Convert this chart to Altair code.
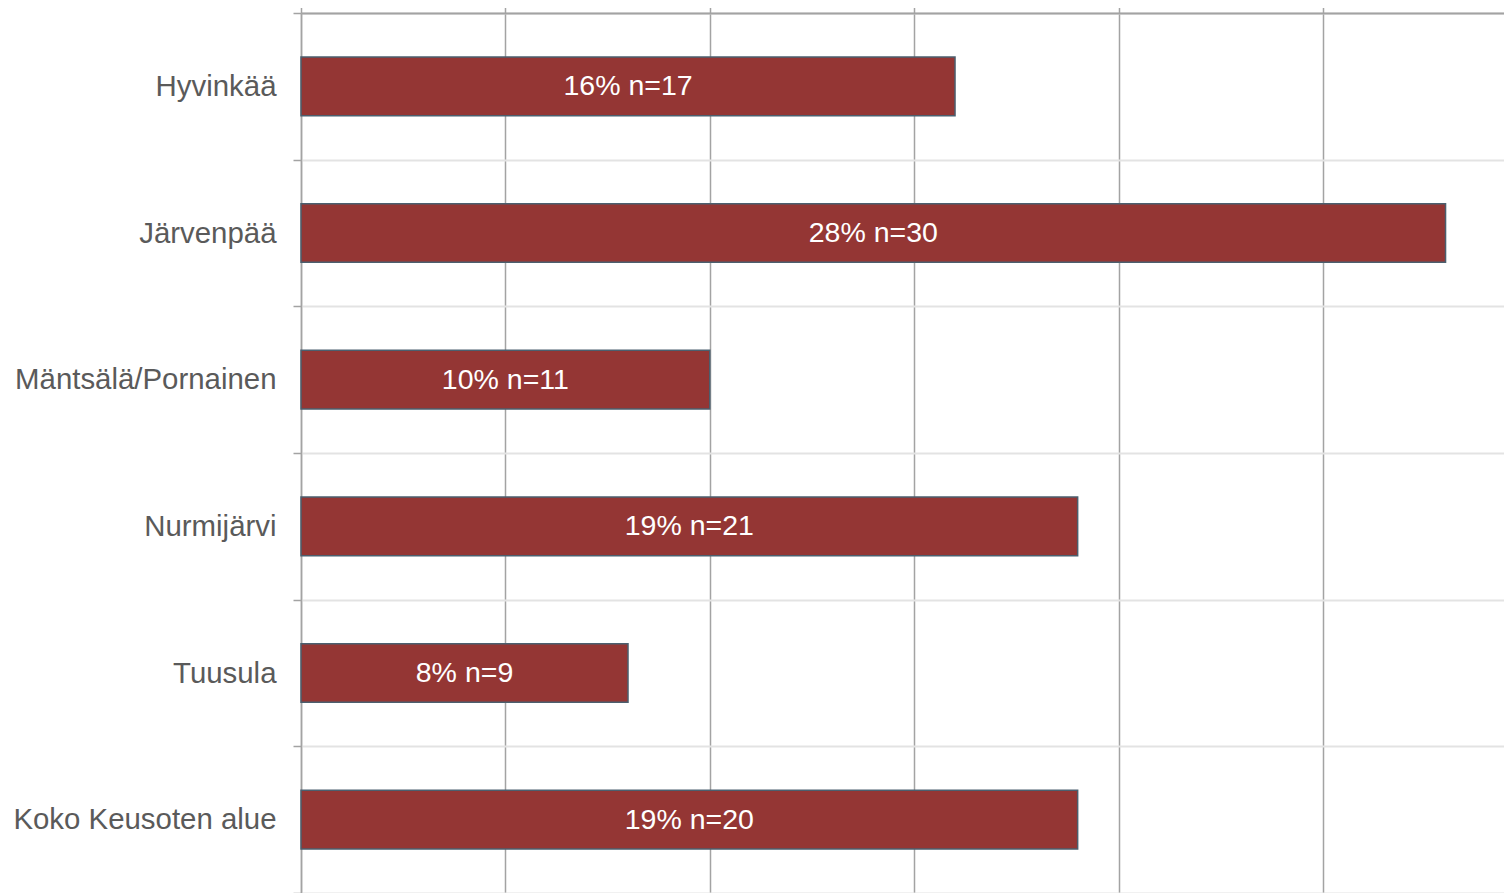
import altair as alt
import pandas as pd

categories = ["Hyvinkää", "Järvenpää", "Mäntsälä/Pornainen", "Nurmijärvi", "Tuusula", "Koko Keusoten alue"]
percent = [16, 28, 10, 19, 8, 19]
counts = [17, 30, 11, 21, 9, 20]
x_ticks = [0, 5, 10, 15, 20, 25]
x_max = 29.43

df = pd.DataFrame({"alue": categories, "pct": percent, "n": counts})
df["label"] = [f"{p}% n={n}" for p, n in zip(percent, counts)]

GRID = "#a3a3a3"
FONT = "Liberation Sans"

y_enc = alt.Y(
    "alue:N",
    sort=categories,
    title=None,
    scale=alt.Scale(paddingInner=0, paddingOuter=0),
    axis=alt.Axis(
        tickBand="extent",
        grid=True,
        gridColor="#e3e3e3",
        gridWidth=2,
        domainColor=GRID,
        domainWidth=1.5,
        tickColor=GRID,
        tickWidth=1.5,
        tickSize=8,
        labelFont=FONT,
        labelFontSize=29.4,
        labelColor="#5a5a5a",
        labelPadding=17,
        labelLimit=0,
    ),
)

x_enc = alt.X(
    "pct:Q",
    title=None,
    scale=alt.Scale(domain=[0, x_max], nice=False),
    axis=alt.Axis(
        orient="top",
        values=x_ticks,
        labels=False,
        grid=True,
        gridColor=GRID,
        gridWidth=1.5,
        domainColor=GRID,
        domainWidth=2,
        tickColor=GRID,
        tickWidth=1.5,
        tickSize=9,
    ),
)

bars = alt.Chart(df).mark_bar(
    color="#943634", stroke="#4b5f6e", strokeWidth=1.5,
    height=alt.RelativeBandSize(band=0.4),
).encode(x=x_enc, y=y_enc)

text = alt.Chart(df).transform_calculate(
    mid="datum.pct / 2"
).mark_text(
    color="white", font=FONT, fontSize=28.5, align="center", baseline="middle"
).encode(
    x=alt.X("mid:Q"),
    y=alt.Y("alue:N", sort=categories),
    text="label:N",
)

chart = (
    alt.layer(bars, text)
    .properties(
        width=1203,
        height=880,
        padding={"left": 293, "top": 5, "right": 0, "bottom": 0},
        autosize=alt.AutoSizeParams(type="none"),
        background="white",
    )
    .configure_view(stroke=None)
)

chart.save("out.html", embed_options={"renderer": "svg", "actions": False})
